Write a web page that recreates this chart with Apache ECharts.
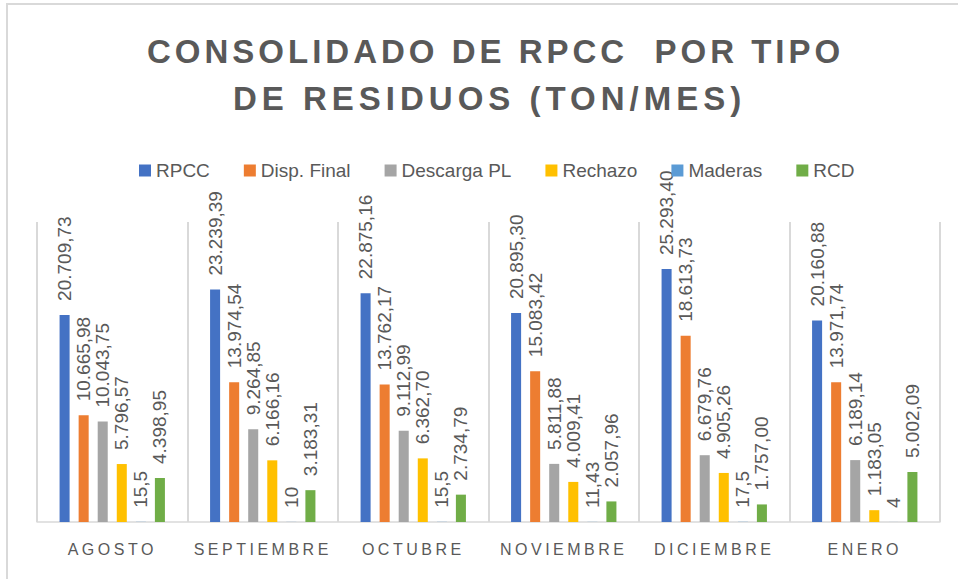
<!DOCTYPE html>
<html>
<head>
<meta charset="utf-8">
<title>Consolidado de RPCC por tipo de residuos</title>
<script src="https://cdn.jsdelivr.net/npm/echarts@6/dist/echarts.min.js"></script>
<style>
  html, body { margin: 0; padding: 0; background: #fff; }
  #chart { width: 958px; height: 579px; }
</style>
</head>
<body>
<div id="chart"></div>
<script>
// datos por mes (ton/mes)
const categories = ['AGOSTO', 'SEPTIEMBRE', 'OCTUBRE', 'NOVIEMBRE', 'DICIEMBRE', 'ENERO']
const rpcc = [20709.73, 23239.39, 22875.16, 20895.30, 25293.40, 20160.88]
const dispFinal = [10665.98, 13974.54, 13762.17, 15083.42, 18613.73, 13971.74]
const descargaPL = [10043.75, 9264.85, 9112.99, 5811.88, 6679.76, 6189.14]
const rechazo = [5796.57, 6166.16, 6362.70, 4009.41, 4905.26, 1183.05]
const maderas = [15.5, 10, 15.5, 11.43, 17.5, 4]
const rcd = [4398.95, 3183.31, 2734.79, 2057.96, 1757.00, 5002.09]

const titleLines = ['CONSOLIDADO DE RPCC  POR TIPO', 'DE RESIDUOS (TON/MES)']
const FONT = '"Liberation Sans", Arial, sans-serif'
const GRAY = '#595959'

// 20709.73 -> "20.709,73"
function esNum(v, dec) {
  const s = dec == null ? String(v) : v.toFixed(dec)
  let [i, d] = s.split('.')
  i = i.replace(/\B(?=(\d{3})+(?!\d))/g, '.')
  return d ? i + ',' + d : i
}

function barSeries(name, data, color, dec) {
  return {
    name,
    type: 'bar',
    data,
    barGap: '90%',
    barCategoryGap: '30%',
    itemStyle: { color },
    label: {
      show: true,
      position: 'top',
      rotate: 90,
      align: 'left',
      verticalAlign: 'middle',
      distance: 14,
      color: GRAY,
      fontSize: 19,
      fontFamily: FONT,
      formatter: (p) => esNum(p.value, dec),
    },
  }
}

const titleStyle = { color: GRAY, fontSize: 33, fontWeight: 'bold', fontFamily: FONT }

const chart = echarts.init(document.getElementById('chart'), null, { renderer: 'svg' })

chart.setOption({
  animation: false,
  backgroundColor: '#fff',
  title: [
    { text: titleLines[0], left: 142, top: 30, textStyle: titleStyle },
    { text: titleLines[1], left: 228, top: 77, textStyle: titleStyle },
  ],
  legend: {
    top: 156,
    left: 134,
    itemWidth: 12,
    itemHeight: 12,
    itemGap: 34,
    icon: 'rect',
    textStyle: { color: GRAY, fontSize: 19, fontFamily: FONT },
  },
  grid: { left: 37, right: 18, top: 222, bottom: 57 },
  xAxis: {
    type: 'category',
    data: categories,
    axisTick: { show: false },
    axisLine: { lineStyle: { color: '#d9d9d9', width: 1.5 } },
    splitLine: { show: true, lineStyle: { color: '#d9d9d9', width: 2 } },
    axisLabel: { color: GRAY, fontSize: 16, fontFamily: FONT, margin: 19 },
  },
  yAxis: {
    type: 'value',
    min: 0,
    max: 30000,
    show: false,
  },
  graphic: [
    {
      type: 'rect',
      shape: { x: 7, y: 4, width: 1000, height: 1000 },
      style: { fill: 'none', stroke: '#d9d9d9', lineWidth: 2 },
      silent: true,
    },
  ],
  series: [
    barSeries('RPCC', rpcc, '#4472C4', 2),
    barSeries('Disp. Final', dispFinal, '#ED7D31', 2),
    barSeries('Descarga PL', descargaPL, '#A5A5A5', 2),
    barSeries('Rechazo', rechazo, '#FFC000', 2),
    barSeries('Maderas', maderas, '#5B9BD5', null),
    barSeries('RCD', rcd, '#70AD47', 2),
  ],
})

// espaciado de letras como en el original (título y meses)
function spaceLetters() {
  chart.getDom().querySelectorAll('text').forEach((t) => {
    const s = t.textContent
    if (s === titleLines[0]) t.style.letterSpacing = '4px'
    else if (s === titleLines[1]) t.style.letterSpacing = '5px'
    else if (categories.includes(s)) t.style.letterSpacing = '3.5px'
  })
}
spaceLetters()
chart.on('finished', spaceLetters)
</script>
</body>
</html>
